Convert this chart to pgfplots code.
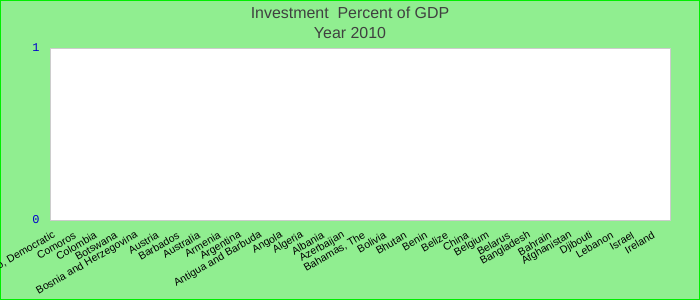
\documentclass[border=0pt]{standalone}
\usepackage{pgfplots}
\usepackage{pgfplotstable}
\pgfplotsset{compat=1.18}
\usepackage{fontspec}
\setmainfont{Liberation Sans}
\setmonofont{Liberation Mono}
\definecolor{bg}{HTML}{90EE90}
\definecolor{frame}{HTML}{00EE00}
\definecolor{titlegray}{HTML}{404040}
\definecolor{tickblue}{HTML}{0000CC}
\definecolor{plotborder}{HTML}{CCCCCC}

\pgfplotstableread{
idx value
0 0
1 0
2 0
3 0
4 0
5 0
6 0
7 0
8 0
9 0
10 0
11 0
12 0
13 0
14 0
15 0
16 0
17 0
18 0
19 0
20 0
21 0
22 0
23 0
24 0
25 0
26 0
27 0
28 0
29 0
}\datatable

\begin{document}
\begin{tikzpicture}
\useasboundingbox (0bp,0bp) rectangle (700bp,300bp);
\fill[bg] (0bp,0bp) rectangle (700bp,300bp);
\draw[frame, line width=2bp] (0bp,0bp) rectangle (700bp,300bp);
\node[font=\fontsize{16}{19}\selectfont, text=titlegray] at (350bp,287bp) {Investment~ Percent of GDP};
\node[font=\fontsize{16}{19}\selectfont, text=titlegray] at (350bp,267bp) {Year 2010};
\begin{axis}[
  at={(50bp,80bp)}, anchor=south west,
  scale only axis, width=620bp, height=172bp,
  xmin=-0.5, xmax=29.5, ymin=0, ymax=1,
  axis background/.style={fill=white},
  axis line style={plotborder},
  xtick={0,...,29},
  xticklabels={{Congo, Democratic},Comoros,Colombia,Botswana,Bosnia and Herzegovina,Austria,Barbados,Australia,Armenia,Argentina,Antigua and Barbuda,Angola,Algeria,Albania,Azerbaijan,{Bahamas, The},Bolivia,Bhutan,Benin,Belize,China,Belgium,Belarus,Bangladesh,Bahrain,Afghanistan,Djibouti,Lebanon,Israel,Ireland},
  major tick length=0pt,
  ytick={0,1},
  /pgf/number format/assume math mode=true,
  yticklabel style={font=\ttfamily\fontsize{12}{14}\selectfont, text=tickblue, xshift=-7bp},
  xticklabel style={font=\fontsize{10.6}{12}\selectfont, text=black, yshift=-14bp, xshift=-5bp, rotate=30, anchor=east, inner sep=1bp},
]
\addplot[ybar, draw=none, fill=none] table[x=idx, y=value] {\datatable};
\end{axis}
\end{tikzpicture}
\end{document}
